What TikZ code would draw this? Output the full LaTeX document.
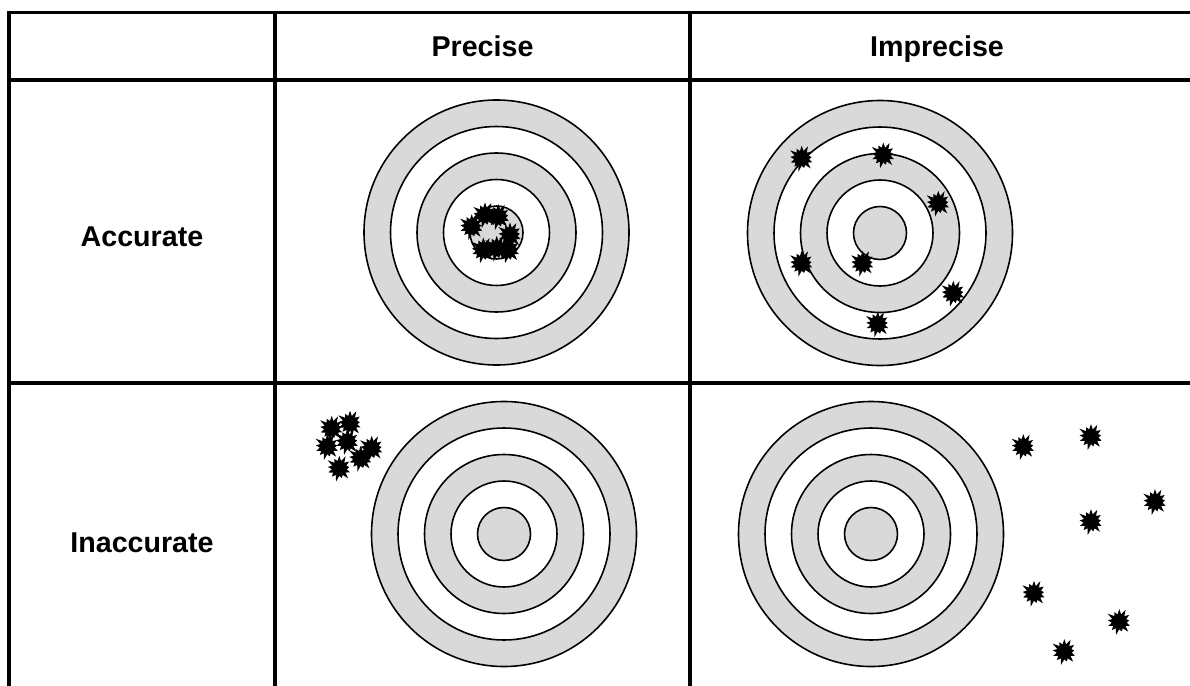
\documentclass[tikz,border=0pt]{standalone}
\usepackage{fontspec}
\setmainfont{Liberation Sans}
\usetikzlibrary{shapes.symbols}
\definecolor{RingGrey}{HTML}{D9D9D9}

\begin{document}
\begin{tikzpicture}[
        x=0.02cm, y=-0.02cm,
        every node/.style={font=\fontsize{16.3}{19}\selectfont\bfseries},
        grid/.style={line width=1.8pt},
        ring/.style={draw=black,line width=0.9pt},
        head/.style={anchor=base,inner sep=0pt},
        hit/.style={starburst,fill=black,draw=none,starburst points=13,
          starburst point height=0.14cm,minimum size=0.58cm,inner sep=0pt}
      ]
        \useasboundingbox (0,0) rectangle (1190,686);
        % table rules
        \draw[grid] (9,686) -- (9,12.5) -- (1190,12.5);
        \draw[grid] (9,80) -- (1190,80);
        \draw[grid] (9,383) -- (1190,383);
        \draw[grid] (275,12.5) -- (275,686);
        \draw[grid] (690,12.5) -- (690,686);
        % headings
        \node[head] (precise) at (482.5,57) {Precise};
        \node[head] (imprecise) at (937,57) {Imprecise};
        \node[head] (accurate) at (142,246) {Accurate};
        \node[head] (inaccurate) at (142,552) {Inaccurate};
        % targets
        \foreach \cx/\cy in {496.5/232.5, 880/233, 504/534, 871/534}{
          \foreach \r/\c in {132.5/RingGrey, 106/white, 79.5/RingGrey, 53/white, 26.5/RingGrey}
            \draw[ring,fill=\c] (\cx,\cy) circle[radius=\r];
        }
        % hits: precise and accurate
        \foreach \p [count=\i] in {(471.7,226.7),(485,215),(498.3,216.7),(510,235),
                                  (483.3,250),(496.7,248.3),(508.3,250)}
          \node[hit] (pa\i) at \p {};
        % hits: imprecise and accurate
        \foreach \p [count=\i] in {(801.7,158.3),(883.3,155),(938.3,203.3),(801.7,263.3),
                                  (862.7,263.3),(953.3,293.3),(877.7,324)}
          \node[hit] (ia\i) at \p {};
        % hits: precise but inaccurate
        \foreach \p [count=\i] in {(331.7,428.3),(350,423.3),(327.3,446.7),(347.3,441.7),
                                  (371.7,448.3),(360.7,458.3),(339.3,468.3)}
          \node[hit] (pi\i) at \p {};
        % hits: imprecise and inaccurate
        \foreach \p [count=\i] in {(1023.3,446.7),(1091,436.7),(1155,501.7),(1091,521.7),
                                  (1034,593.3),(1119.3,621.7),(1064.3,651.7)}
          \node[hit] (ii\i) at \p {};
      \end{tikzpicture}
\end{document}
